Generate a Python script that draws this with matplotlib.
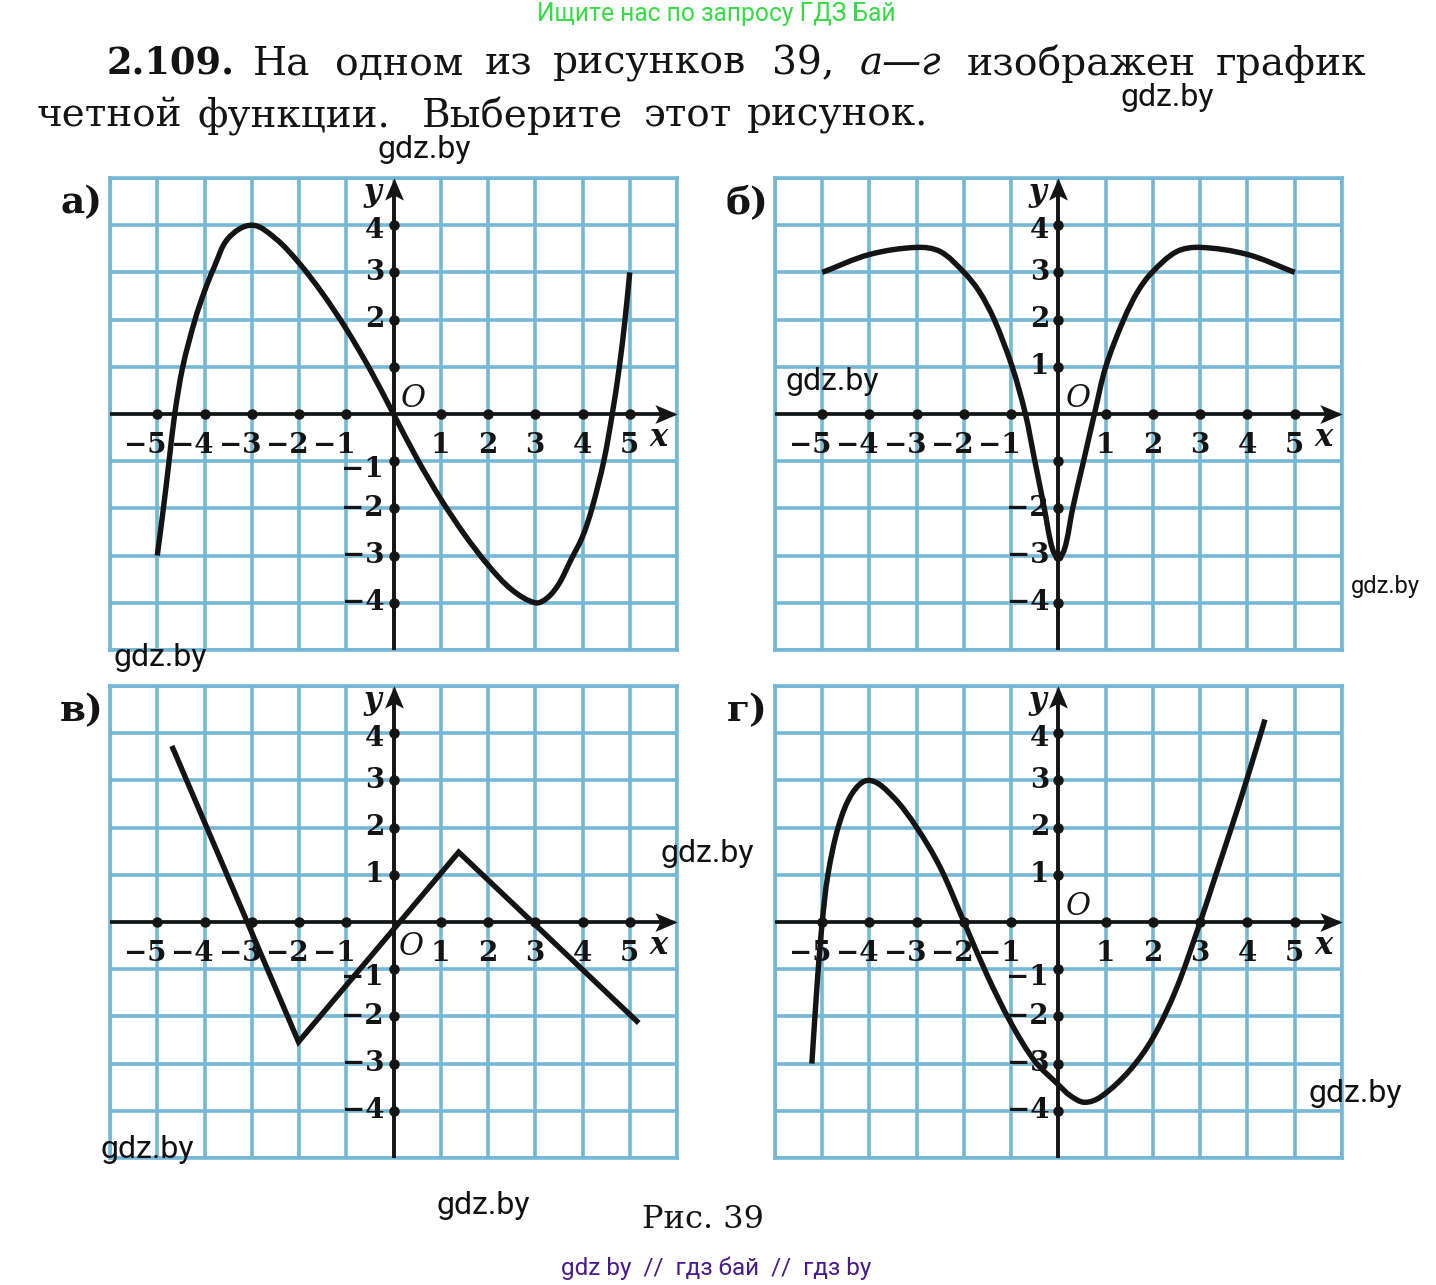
"""
Four function graphs from the textbook page, Fig. 39
"""

import math

import matplotlib

matplotlib.use("Agg")
import matplotlib.pyplot as plt
from matplotlib.patches import PathPatch
from matplotlib.path import Path

W, H = 1436, 1285
BLUE = "#74b8d6"
INK = "#141414"
SERIF = "DejaVu Serif"

# curves (grid units)
a_x = [-5, -4.87, -4.75, -4.63, -4.46, -4.2, -4, -3.8, -3.5, -3, -2.5, -2, -1.5, -1, -0.5, 0,
       0.5, 1, 1.5, 2, 2.5, 3, 3.25, 3.5, 3.75, 4, 4.2, 4.45, 4.63, 4.78, 4.9, 5]
a_y = [-3, -2, -1, 0, 1, 2, 2.6, 3.1, 3.72, 4, 3.72, 3.2, 2.55, 1.8, 0.95, 0,
       -0.95, -1.8, -2.55, -3.2, -3.72, -4, -3.9, -3.6, -3.1, -2.6, -2, -1, 0, 1, 2, 3]

b_x = [-5, -4, -3, -2.5, -2, -1.68, -1.36, -0.98, -0.7, -0.5, -0.3, -0.17, -0.08, 0,
       0.08, 0.17, 0.3, 0.53, 0.76, 1.0, 1.38, 1.68, 1.98, 2.5, 3, 4, 5]
b_y = [3, 3.38, 3.53, 3.44, 3.0, 2.6, 2, 1, 0, -1, -2, -2.7, -2.97, -3,
       -2.97, -2.7, -2, -1, 0, 1, 2, 2.6, 3, 3.44, 3.53, 3.38, 3]

v_x = [-4.69, -2.01, 1.38, 5.19]
v_y = [3.73, -2.54, 1.48, -2.14]

g_x = [-5.22, -5.1, -5, -4.88, -4.65, -4.35, -4, -3.5, -3, -2.5, -2, -1.5, -1, -0.5, 0,
       0.25, 0.55, 0.9, 1.5, 2, 2.5, 3, 3.33, 3.66, 3.98, 4.37]
g_y = [-3, -1.2, 0, 1, 2.05, 2.75, 3, 2.65, 2.0, 1.15, 0, -1.15, -2.15, -2.95, -3.45,
       -3.68, -3.82, -3.7, -3.15, -2.45, -1.4, 0, 1, 2, 3, 4.29]

x_marks = [-5, -4, -3, -2, -1, 1, 2, 3, 4, 5]
y_marks = [-4, -3, -2, -1, 1, 2, 3, 4]

# left, top of each frame in pixels, panel letter, y labels, position of O
panel_names = ["а)", "б)", "в)", "г)"]
panel_left = [110, 775, 110, 775]
panel_top = [178, 178, 686, 686]
panel_y_labels = [
    [-4, -3, -2, -1, 2, 3, 4],
    [-4, -3, -2, 1, 2, 3, 4],
    [-4, -3, -2, -1, 1, 2, 3, 4],
    [-4, -3, -2, -1, 1, 2, 3, 4],
]
panel_o = [(0.42, 0.32), (0.42, 0.32), (0.38, -0.52), (0.42, 0.32)]

line1 = [("На", 253), ("одном", 335), ("из", 485), ("рисунков", 553), ("39,", 772),
         ("изображен", 967), ("график", 1216)]
line2 = [("четной", 37), ("функции.", 197), ("Выберите", 422), ("этот", 643), ("рисунок.", 747)]

watermarks = [(1167, 97, 23), (424, 149, 23), (832, 381, 23), (1385, 587, 17), (160, 657, 23),
              (707, 853, 23), (147, 1149, 23), (1355, 1093, 23), (483, 1205, 23)]

# arrow head with a notched tail
HEAD = Path([(1, 0), (-1, 0.85), (-0.55, 0), (-1, -0.85), (1, 0)], closed=True)
HEAD_UP = Path([(0, 1), (0.85, -1), (0, -0.55), (-0.85, -1), (0, 1)], closed=True)


def smooth_path(xs, ys):
    # bezier segments through the read points, handles scaled to each segment length
    pts = list(zip(xs, ys))
    n = len(pts)
    tangents = []
    for i in range(n):
        p0 = pts[max(i - 1, 0)]
        p2 = pts[min(i + 1, n - 1)]
        d = math.hypot(p2[0] - p0[0], p2[1] - p0[1])
        tangents.append(((p2[0] - p0[0]) / d, (p2[1] - p0[1]) / d))
    verts = [pts[0]]
    codes = [Path.MOVETO]
    for i in range(n - 1):
        p1, p2 = pts[i], pts[i + 1]
        t1, t2 = tangents[i], tangents[i + 1]
        h = math.hypot(p2[0] - p1[0], p2[1] - p1[1]) / 3
        verts += [(p1[0] + t1[0] * h, p1[1] + t1[1] * h),
                  (p2[0] - t2[0] * h, p2[1] - t2[1] * h), p2]
        codes += [Path.CURVE4] * 3
    return Path(verts, codes)


def page_text(fig, x, y, s, **kw):
    kw.setdefault("ha", "center")
    kw.setdefault("va", "center")
    fig.text(x / W, 1 - y / H, s, **kw)


def draw_panel(fig, i):
    left, top = panel_left[i], panel_top[i]
    ax = fig.add_axes([left / W, 1 - (top + 472) / H, 567 / W, 472 / H])
    ax.set_xlim(-6, 6)
    ax.set_ylim(-5, 5)
    ax.set_xticks(range(-6, 7))
    ax.set_yticks(range(-5, 6))
    ax.tick_params(length=0, labelbottom=False, labelleft=False)
    ax.grid(True, color=BLUE, lw=2.6)
    ax.set_axisbelow(True)
    for s in ax.spines.values():
        s.set_color(BLUE)
        s.set_linewidth(2.6)

    ax.plot([-6, 5.7], [0, 0], color=INK, lw=2.6, zorder=3, solid_capstyle="butt")
    ax.plot([0, 0], [-5, 4.7], color=INK, lw=2.8, zorder=3, solid_capstyle="butt")
    ax.plot(x_marks, [0] * len(x_marks), "o", color=INK, ms=6.5, zorder=3)
    ax.plot([0] * len(y_marks), y_marks, "o", color=INK, ms=6.5, zorder=3)
    ax.plot(5.76, 0, marker=HEAD, color=INK, ms=16, mew=0, zorder=3)
    ax.plot(0, 4.76, marker=HEAD_UP, color=INK, ms=16, mew=0, zorder=3)

    for v in x_marks:
        # digit sits under its mark, the minus hangs to the left
        ax.text(v + 0.2, -0.66, str(v).replace("-", "−"), ha="right", va="center",
                family=SERIF, weight="bold", fontsize=20, color=INK, zorder=4)
    for v in panel_y_labels[i]:
        shift = {4: -0.12, -1: -0.17}.get(v, 0)
        ax.text(-0.2, v + shift, str(v).replace("-", "−"), ha="right", va="center",
                family=SERIF, weight="bold", fontsize=20, color=INK, zorder=4)

    ax.text(5.6, -0.5, "x", ha="center", va="center", family=SERIF, style="italic",
            weight="bold", fontsize=22, color=INK, zorder=4)
    ax.text(-0.45, 4.7, "y", ha="center", va="center", family=SERIF, style="italic",
            weight="bold", fontsize=22, color=INK, zorder=4)
    ox, oy = panel_o[i]
    ax.text(ox, oy, "O", ha="center", va="center", family=SERIF, style="italic",
            fontsize=22, color=INK, zorder=4)
    page_text(fig, left - 28, top + 25, panel_names[i], family=SERIF, weight="bold",
              fontsize=27, color=INK)
    return ax


def main():
    fig = plt.figure(figsize=(W / 100, H / 100), dpi=100, facecolor="white")

    axes = [draw_panel(fig, i) for i in range(4)]
    for ax, (xs, ys) in zip([axes[0], axes[1], axes[3]], [(a_x, a_y), (b_x, b_y), (g_x, g_y)]):
        ax.add_patch(PathPatch(smooth_path(xs, ys), fill=False, ec=INK, lw=3.9,
                               capstyle="butt", zorder=5))
    axes[2].plot(v_x, v_y, color=INK, lw=3.9, zorder=5, solid_capstyle="butt",
                 solid_joinstyle="miter")

    # problem text, word by word because the lines are justified
    page_text(fig, 107, 64, "2.109.", ha="left", family=SERIF, weight="bold", fontsize=26.5, color=INK)
    for word, x in line1:
        page_text(fig, x, 64, word, ha="left", family=SERIF, fontsize=28.3, color=INK)
    page_text(fig, 860, 64, "а—г", ha="left", family=SERIF, style="italic", fontsize=28, color=INK)
    for word, x in line2:
        page_text(fig, x, 116, word, ha="left", family=SERIF, fontsize=28, color=INK)
    page_text(fig, 703, 1220, "Рис. 39", family=SERIF, fontsize=23, color=INK)

    page_text(fig, 716, 14, "Ищите нас по запросу ГДЗ Бай", family="Roboto", fontsize=17.7, color="#35dc45")
    page_text(fig, 716, 1268, "gdz by  //  гдз бай  //  гдз by", family="Roboto", fontsize=17.5, color="#4a1a8c")
    for x, y, size in watermarks:
        page_text(fig, x, y, "gdz.by", family="Roboto", fontsize=size, color="#111111", zorder=6)

    fig.savefig("out.png", dpi=100)
    plt.close(fig)


if __name__ == "__main__":
    main()
